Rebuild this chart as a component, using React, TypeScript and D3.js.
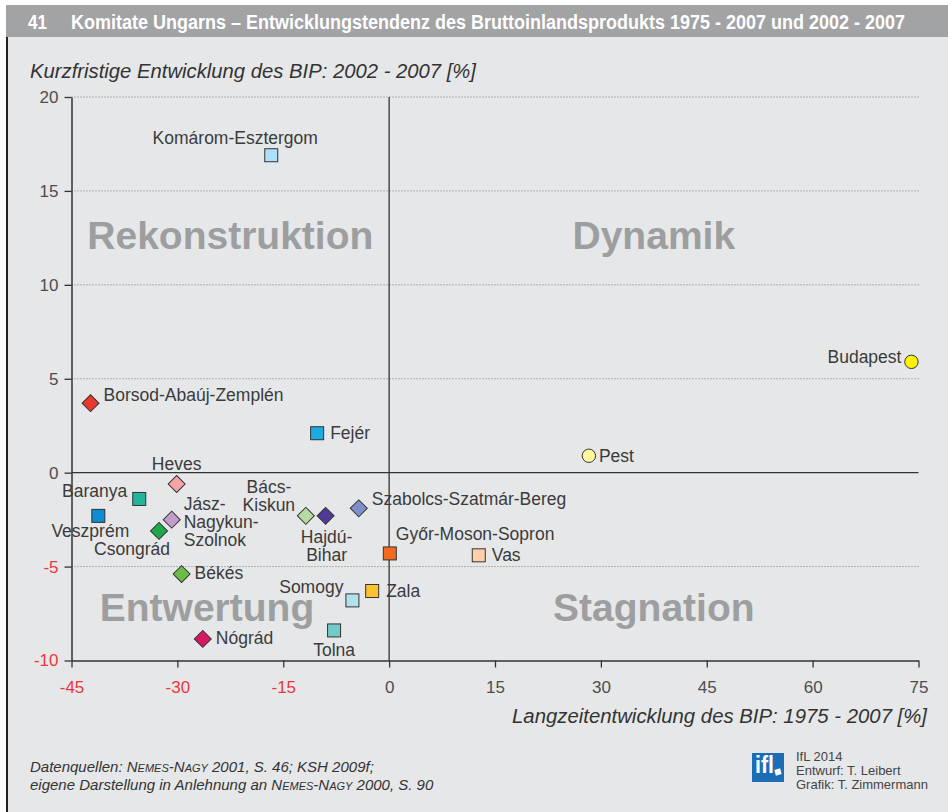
import React, { useEffect, useRef } from 'react';
import * as d3 from 'd3';

// Komitate (counties) of Hungary, GDP development in %
const counties = [
    'Budapest', 'Pest', 'Komárom-Esztergom', 'Borsod-Abaúj-Zemplén', 'Fejér',
    'Heves', 'Baranya', 'Veszprém', 'Jász-Nagykun-Szolnok', 'Csongrád',
    'Békés', 'Nógrád', 'Bács-Kiskun', 'Hajdú-Bihar', 'Szabolcs-Szatmár-Bereg',
    'Győr-Moson-Sopron', 'Vas', 'Somogy', 'Zala', 'Tolna'
];
// Langzeitentwicklung 1975-2007 [%]
const longTerm = [74.0, 28.3, -16.7, -42.3, -10.2, -30.1, -35.4, -41.2, -30.8, -32.6, -29.4, -26.4, -11.8, -9.0, -4.3, 0.1, 12.7, -5.2, -2.4, -7.8];
// Kurzfristige Entwicklung 2002-2007 [%]
const shortTerm = [5.9, 0.9, 16.9, 3.7, 2.1, -0.6, -1.4, -2.3, -2.5, -3.1, -5.4, -8.85, -2.3, -2.3, -1.9, -4.3, -4.4, -6.8, -6.3, -8.4];
const markerShapes = ['circle', 'circle', 'square', 'diamond', 'square', 'diamond', 'square', 'square', 'diamond', 'diamond', 'diamond', 'diamond', 'diamond', 'diamond', 'diamond', 'square', 'square', 'square', 'square', 'square'];
const markerFills = ['#fff200', '#fff799', '#aee0f7', '#e63a2e', '#1cabe2', '#f5a3a5', '#22b59b', '#0d8bd3', '#c39dca', '#1ea84b', '#6cbd45', '#d6175f', '#b6dba0', '#4f3b96', '#7e8fcb', '#f26a21', '#fdd0ac', '#b2e1e9', '#fbc12e', '#72cbc6'];

const xTicks = [-45, -30, -15, 0, 15, 30, 45, 60, 75];
const yTicks = [-10, -5, 0, 5, 10, 15, 20];

const quadrantNames = ['Rekonstruktion', 'Dynamik', 'Entwertung', 'Stagnation'];
const quadrantX = [-22.5, 37.5, -25.8, 37.5];
const quadrantY = [11.9, 11.9, -7.9, -7.9];

// label placement relative to each marker (pixels), same order as counties
const labelLayout = [
    { lines: ['Budapest'], anchor: 'end', dx: -10, dy: 1 },
    { lines: ['Pest'], anchor: 'start', dx: 10, dy: 6 },
    { lines: ['Komárom-Esztergom'], anchor: 'middle', dx: -36, dy: -11 },
    { lines: ['Borsod-Abaúj-Zemplén'], anchor: 'start', dx: 13, dy: -2 },
    { lines: ['Fejér'], anchor: 'start', dx: 13, dy: 6 },
    { lines: ['Heves'], anchor: 'middle', dx: 0, dy: -14 },
    { lines: ['Baranya'], anchor: 'end', dx: -12, dy: -2 },
    { lines: ['Veszprém'], anchor: 'middle', dx: -8, dy: 21 },
    { lines: ['Jász-', 'Nagykun-', 'Szolnok'], anchor: 'start', dx: 12, dy: -10 },
    { lines: ['Csongrád'], anchor: 'middle', dx: -27, dy: 24 },
    { lines: ['Békés'], anchor: 'start', dx: 13, dy: 5 },
    { lines: ['Nógrád'], anchor: 'start', dx: 13, dy: 5 },
    { lines: ['Bács-', 'Kiskun'], anchor: 'middle', dx: -37, dy: -23 },
    { lines: ['Hajdú-', 'Bihar'], anchor: 'middle', dx: 1, dy: 27 },
    { lines: ['Szabolcs-Szatmár-Bereg'], anchor: 'start', dx: 13, dy: -3 },
    { lines: ['Győr-Moson-Sopron'], anchor: 'start', dx: 6, dy: -13 },
    { lines: ['Vas'], anchor: 'start', dx: 13, dy: 6 },
    { lines: ['Somogy'], anchor: 'end', dx: -9, dy: -7 },
    { lines: ['Zala'], anchor: 'start', dx: 14, dy: 6 },
    { lines: ['Tolna'], anchor: 'middle', dx: 0, dy: 26 }
];

const FONT = "'Liberation Sans', Arial, Helvetica, sans-serif";
const NARROW = "'Liberation Sans Narrow', 'Liberation Sans', Arial, sans-serif";
const RED = '#e8383d';
const TEXT = '#3b3b3b';

export default function App() {
    const svgRef = useRef<SVGSVGElement>(null);

    useEffect(() => {
        document.body.style.margin = '0';
        const svg = d3.select(svgRef.current);
        svg.selectAll('*').remove();

        const W = 948, H = 812;
        const x = d3.scaleLinear().domain([-45, 75]).range([71.5, 918.5]);
        const y = d3.scaleLinear().domain([-10, 20]).range([660.5, 97]);

        // background + title bar
        svg.append('rect').attr('width', W).attr('height', H).attr('fill', '#ffffff');
        svg.append('rect').attr('x', 6).attr('y', 5).attr('width', W - 6).attr('height', H - 5).attr('fill', '#e6e7e8');
        svg.append('rect').attr('x', 6).attr('y', 5).attr('width', W - 6).attr('height', 32).attr('fill', '#a2a3a5');
        svg.append('line').attr('x1', 7).attr('x2', 7).attr('y1', 37).attr('y2', H)
            .attr('stroke', '#222').attr('stroke-width', 2);

        svg.append('text').attr('x', 28).attr('y', 29)
            .attr('font-family', NARROW).attr('font-weight', 'bold').attr('font-size', 20)
            .attr('fill', '#fff').attr('textLength', 19).attr('lengthAdjust', 'spacingAndGlyphs')
            .text('41');
        svg.append('text').attr('x', 71).attr('y', 29)
            .attr('font-family', NARROW).attr('font-weight', 'bold').attr('font-size', 20)
            .attr('fill', '#fff').attr('textLength', 834).attr('lengthAdjust', 'spacingAndGlyphs')
            .text('Komitate Ungarns – Entwicklungstendenz des Bruttoinlandsprodukts 1975 - 2007 und 2002 - 2007');

        // axis titles
        svg.append('text').attr('x', 30).attr('y', 78)
            .attr('font-family', FONT).attr('font-style', 'italic').attr('font-size', 20)
            .attr('fill', '#333').attr('textLength', 446).attr('lengthAdjust', 'spacingAndGlyphs')
            .text('Kurzfristige Entwicklung des BIP: 2002 - 2007 [%]');
        svg.append('text').attr('x', 927).attr('y', 723).attr('text-anchor', 'end')
            .attr('font-family', FONT).attr('font-style', 'italic').attr('font-size', 20)
            .attr('fill', '#333').attr('textLength', 415).attr('lengthAdjust', 'spacingAndGlyphs')
            .text('Langzeitentwicklung des BIP: 1975 - 2007 [%]');

        const plot = svg.append('g');

        // dotted grid lines
        plot.selectAll('.grid')
            .data(yTicks.filter(t => t !== 0 && t !== -10))
            .join('line')
            .attr('x1', x(-45)).attr('x2', x(75))
            .attr('y1', d => y(d)).attr('y2', d => y(d))
            .attr('stroke', '#7a7a7a').attr('stroke-width', 1).attr('stroke-dasharray', '1,2');

        // quadrant names
        plot.selectAll('.quad')
            .data(quadrantNames)
            .join('text')
            .attr('x', (d, i) => x(quadrantX[i])).attr('y', (d, i) => y(quadrantY[i]))
            .attr('text-anchor', 'middle')
            .attr('font-family', FONT).attr('font-weight', 'bold').attr('font-size', 39)
            .attr('fill', '#9d9ea0')
            .text(d => d);

        // zero lines
        plot.append('line').attr('x1', x(-45)).attr('x2', x(75)).attr('y1', y(0)).attr('y2', y(0))
            .attr('stroke', '#333').attr('stroke-width', 1.3);
        plot.append('line').attr('x1', x(0)).attr('x2', x(0)).attr('y1', y(-10)).attr('y2', y(20))
            .attr('stroke', '#333').attr('stroke-width', 1.3);

        // axes
        plot.append('g')
            .attr('transform', `translate(${x(-45)},0)`)
            .call(d3.axisLeft(y).tickValues(yTicks).tickFormat(d => String(d)).tickSize(7).tickPadding(6).tickSizeOuter(0))
            .call(g => g.select('.domain').attr('stroke', '#333').attr('stroke-width', 1.5))
            .call(g => g.selectAll('.tick line').attr('stroke', '#333').attr('stroke-width', 1.3))
            .call(g => g.selectAll('.tick text')
                .attr('font-family', FONT).attr('font-size', 17)
                .attr('fill', (d: any) => d < 0 ? RED : '#4d4d4d'));

        plot.append('g')
            .attr('transform', `translate(0,${y(-10)})`)
            .call(d3.axisBottom(x).tickValues(xTicks).tickFormat(d => String(d)).tickSize(7).tickPadding(13).tickSizeOuter(0))
            .call(g => g.select('.domain').attr('stroke', '#333').attr('stroke-width', 1.5))
            .call(g => g.selectAll('.tick line').attr('stroke', '#333').attr('stroke-width', 1.3))
            .call(g => g.selectAll('.tick text')
                .attr('font-family', FONT).attr('font-size', 17)
                .attr('fill', (d: any) => d < 0 ? RED : '#4d4d4d'));

        // markers
        const pts = plot.selectAll('.pt')
            .data(counties)
            .join('g')
            .attr('transform', (d, i) => `translate(${x(longTerm[i])},${y(shortTerm[i])})`);

        pts.each(function (d, i) {
            const g = d3.select(this);
            const shape = markerShapes[i];
            if (shape === 'circle') {
                g.append('circle').attr('r', 6.7);
            } else if (shape === 'square') {
                g.append('rect').attr('x', -6.5).attr('y', -6.5).attr('width', 13).attr('height', 13);
            } else {
                g.append('rect').attr('x', -6).attr('y', -6).attr('width', 12).attr('height', 12)
                    .attr('transform', 'rotate(45)');
            }
            g.select('*').attr('fill', markerFills[i]).attr('stroke', '#333').attr('stroke-width', 1);

            const lay = labelLayout[i];
            const t = g.append('text')
                .attr('text-anchor', lay.anchor)
                .attr('font-family', FONT).attr('font-size', 17.5)
                .attr('fill', TEXT);
            lay.lines.forEach((line, k) => {
                t.append('tspan').attr('x', lay.dx).attr('y', lay.dy + k * 18).text(line);
            });
        });

        // footer: sources
        const foot = svg.append('g')
            .attr('font-family', FONT).attr('font-style', 'italic').attr('fill', '#333');
        const addSmallCaps = (t: any, word: string) => {
            word.split('-').forEach((part, k) => {
                if (k > 0) t.append('tspan').attr('font-size', 15).text('-');
                t.append('tspan').attr('font-size', 15).text(part[0]);
                t.append('tspan').attr('font-size', 11).text(part.slice(1).toUpperCase());
            });
        };
        const l1 = foot.append('text').attr('x', 30).attr('y', 772).attr('font-size', 15);
        l1.append('tspan').text('Datenquellen: ');
        addSmallCaps(l1, 'Nemes-Nagy');
        l1.append('tspan').text(' 2001, S. 46; KSH 2009f;');
        const l2 = foot.append('text').attr('x', 30).attr('y', 790).attr('font-size', 15);
        l2.append('tspan').text('eigene Darstellung in Anlehnung an ');
        addSmallCaps(l2, 'Nemes-Nagy');
        l2.append('tspan').text(' 2000, S. 90');

        // IfL logo + credits
        const logo = svg.append('g').attr('transform', 'translate(752,753)');
        logo.append('rect').attr('width', 32).attr('height', 29).attr('fill', '#1b6db5');
        logo.append('text').attr('x', 3).attr('y', 20)
            .attr('font-family', NARROW).attr('font-weight', 'bold').attr('font-size', 24)
            .attr('fill', '#fff').attr('textLength', 19).attr('lengthAdjust', 'spacingAndGlyphs')
            .text('ifl');
        logo.append('rect').attr('x', 23).attr('y', 16).attr('width', 6).attr('height', 6)
            .attr('fill', '#fff').attr('transform', 'rotate(-15,26,19)');

        const credits = ['IfL 2014', 'Entwurf: T. Leibert', 'Grafik: T. Zimmermann'];
        svg.append('g').selectAll('text')
            .data(credits)
            .join('text')
            .attr('x', 796).attr('y', (d, i) => 761 + i * 14)
            .attr('font-family', FONT).attr('font-size', 13).attr('fill', '#444')
            .text(d => d);
    }, []);

    return <svg ref={svgRef} width={948} height={812} style={{ display: 'block' }} />;
}
